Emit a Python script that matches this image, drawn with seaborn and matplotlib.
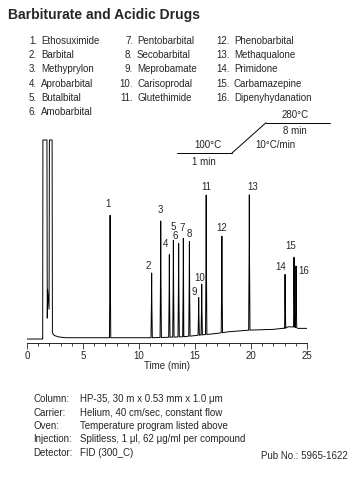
import numpy as np
import pandas as pd
import matplotlib.pyplot as plt
import seaborn as sns
from matplotlib.lines import Line2D

# peaks (time in min, height in arbitrary detector units)
peak_labels = [str(i) for i in range(1, 17)]
peak_times = [7.42, 11.13, 11.94, 12.71, 13.07, 13.54, 13.96, 14.50,
              15.33, 15.60, 16.00, 17.40, 19.85, 23.04, 23.84, 24.02]
peak_heights = [123, 65, 117, 83, 97, 94, 99, 95,
                38, 51, 140, 97, 136, 54, 70, 62]

# baseline drift
baseline_t = [0.0, 1.35, 3.5, 7.3, 11.0, 12.5, 14.0, 15.5, 17.0, 18.0,
              20.0, 22.0, 23.0, 23.3, 23.8, 24.2, 25.0]
baseline_y = [0.0, 0.0, 1.3, 1.3, 1.3, 1.7, 2.3, 4.0, 5.7, 7.3,
              9.0, 9.7, 10.7, 12.3, 12.3, 10.7, 10.7]

# solvent front (goes off scale)
solvent_t = [1.40, 1.42, 1.78, 1.81, 1.84, 1.97, 2.00, 2.24, 2.27, 2.32, 2.45, 2.8, 3.2]
solvent_y = [0, 400, 400, 21, 50, 30, 400, 400, 7, 5, 3.5, 2.2, 1.6]

compounds = ['Ethosuximide', 'Barbital', 'Methyprylon', 'Aprobarbital',
             'Butalbital', 'Amobarbital', 'Pentobarbital', 'Secobarbital',
             'Meprobamate', 'Carisoprodal', 'Glutethimide', 'Phenobarbital',
             'Methaqualone', 'Primidone', 'Carbamazepine', 'Dipenyhydanation']

conditions = [
    ('Column:', 'HP-35, 30 m x 0.53 mm x 1.0 \u03bcm'),
    ('Carrier:', 'Helium, 40 cm/sec, constant flow'),
    ('Oven:', 'Temperature program listed above'),
    ('Injection:', 'Splitless, 1 \u03bcl, 62 \u03bcg/ml per compound'),
    ('Detector:', 'FID (300_C)'),
]
pub_no = 'Pub No.: 5965-1622'

# label offsets in pixels (dx, dy) relative to the peak apex
label_offsets = {'1': (-2, 11), '2': (-3, 7), '3': (0, 11), '4': (-4, 11),
                 '5': (0, 14), '6': (-3, 7), '7': (-1, 10), '8': (0, 8),
                 '9': (-4, 5), '10': (-2, 6), '11': (0, 8), '12': (0, 8),
                 '13': (3, 8), '14': (-4, 7), '15': (-3, 11), '16': (8, -5)}

W, H = 361, 480
CLIP = 200

sns.set_style('white')
plt.rcParams['font.family'] = ['Liberation Sans Narrow', 'Liberation Sans', 'DejaVu Sans']


def build_trace():
    t = list(baseline_t)
    y = list(baseline_y)
    t += solvent_t
    y += solvent_y
    half = 0.06
    for pt, ph in zip(peak_times, peak_heights):
        base = np.interp(pt, baseline_t, baseline_y)
        t += [pt - half, pt - half * 0.35, pt, pt + half * 0.35, pt + half]
        y += [base, base + ph * 0.5, base + ph, base + ph * 0.5, base]
    df = pd.DataFrame({'time': t, 'signal': y}).sort_values('time', kind='stable')
    df['signal'] = df['signal'].clip(upper=CLIP)
    return df


def px(x, y):
    return x / W, 1 - y / H


fig = plt.figure(figsize=(W / 100, H / 100), dpi=100)
ax = fig.add_axes([27 / W, 1 - 343 / H, 280 / W, 204 / H])

trace = build_trace()
sns.lineplot(data=trace, x='time', y='signal', sort=False, estimator=None,
             color='black', lw=0.7, ax=ax)

for lab, pt, ph in zip(peak_labels, peak_times, peak_heights):
    base = np.interp(pt, baseline_t, baseline_y)
    dx, dy = label_offsets[lab]
    ax.annotate(lab, (pt, base + ph), xytext=(dx, dy), textcoords='offset pixels',
                ha='center', va='center', fontsize=7)

ax.set_xlim(0, 25)
ax.set_ylim(-4, CLIP + 1)
ax.set_xticks(range(0, 26, 5))
ax.set_xticks(range(0, 26), minor=True)
ax.set_yticks([])
ax.tick_params(axis='x', which='major', direction='out', length=4.5, width=0.6,
               labelsize=7, pad=1.5, bottom=True)
ax.tick_params(axis='x', which='minor', direction='out', length=2.5, width=0.6,
               bottom=True)
for side in ['left', 'top', 'right']:
    ax.spines[side].set_visible(False)
ax.spines['bottom'].set_linewidth(0.7)
ax.set_xlabel('Time (min)', fontsize=7, labelpad=0)
ax.set_ylabel('')

# title and compound key
fig.text(*px(8, 15), 'Barbiturate and Acidic Drugs', fontsize=10, fontweight='bold',
         va='center', ha='left')
cols = [(37, range(0, 6)), (133, range(6, 11)), (230, range(11, 16))]
for xnum, idx in cols:
    for row, i in enumerate(idx):
        y = 41 + 14.2 * row
        fig.text(*px(xnum, y), f'{i + 1}.', fontsize=7, ha='right', va='center')
        fig.text(*px(xnum + 4, y), compounds[i], fontsize=7, ha='left', va='center')

# oven temperature program sketch
prog = [[(177, 153), (232, 153)], [(232, 153), (266, 122.7)], [(266, 122.7), (330, 122.7)]]
for (x0, y0), (x1, y1) in prog:
    fig.add_artist(Line2D([x0 / W, x1 / W], [1 - y0 / H, 1 - y1 / H], color='black', lw=0.7))
for x, y, s in [(208, 145, '100\u00b0C'), (204, 162, '1 min'), (275, 145, '10\u00b0C/min'),
                (295, 115, '280\u00b0C'), (295, 131.5, '8 min')]:
    fig.text(*px(x, y), s, fontsize=7, ha='center', va='center')

# run conditions
for row, (k, v) in enumerate(conditions):
    y = 399 + 13.5 * row
    fig.text(*px(33, y), k, fontsize=7, ha='left', va='center')
    fig.text(*px(80, y), v, fontsize=7, ha='left', va='center')
fig.text(*px(348, 456), pub_no, fontsize=7, ha='right', va='center')

plt.savefig('out.png', dpi=100)
